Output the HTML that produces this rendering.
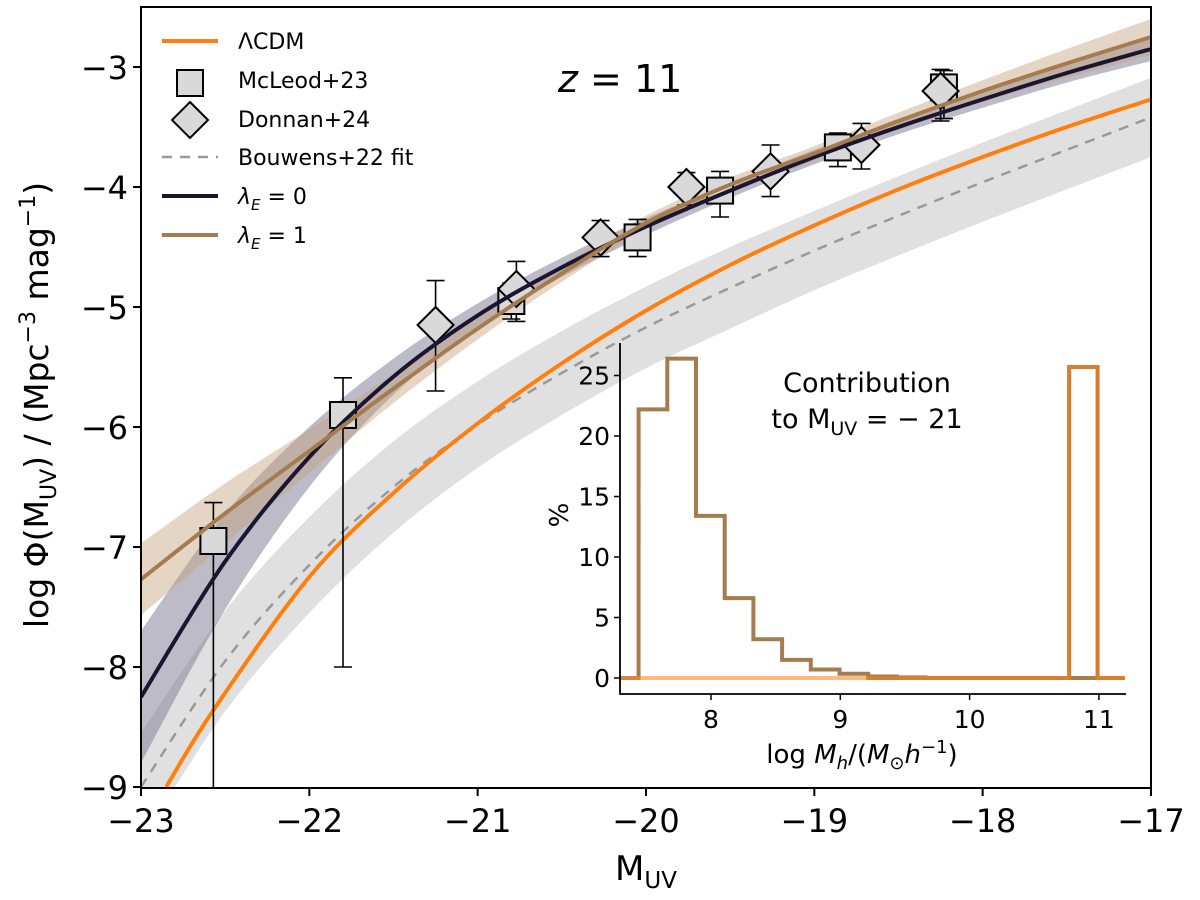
<!DOCTYPE html>
<html><head><meta charset="utf-8"><style>
body{margin:0;background:#fff;}
svg{display:block;font-family:"DejaVu Sans","Liberation Sans",sans-serif;}
</style></head><body>
<svg id="chart" width="1200" height="900" viewBox="0 0 1200 900" xmlns="http://www.w3.org/2000/svg"></svg>
<script>
// ---- main chart data ----
const gridM = [-23,-22.5,-22,-21.5,-21,-20.5,-20,-19.5,-19,-18.5,-18,-17.5,-17];
const lcdmM = [-22.85,-22.57,-22,-21.5,-21,-20.5,-20,-19.5,-19,-18.5,-18,-17.5,-17];
const lcdmV = [-9,-8.36,-7.25,-6.55,-5.97,-5.47,-5.03,-4.65,-4.32,-4.02,-3.75,-3.5,-3.27];
const bouwV = [-9,-7.95,-7.15,-6.5,-5.98,-5.55,-5.17,-4.84,-4.53,-4.24,-3.96,-3.69,-3.42];
const bouwErr = [0.45,0.42,0.4,0.38,0.36,0.35,0.34,0.34,0.33,0.33,0.33,0.33,0.33];
const lam0V = [-8.25,-7.12,-6.25,-5.58,-5.07,-4.67,-4.33,-4.03,-3.75,-3.5,-3.27,-3.05,-2.85];
const lam0Err = [0.55,0.4,0.25,0.15,0.1,0.08,0.07,0.06,0.06,0.06,0.07,0.08,0.1];
const lam1V = [-7.27,-6.72,-6.2,-5.68,-5.18,-4.72,-4.3,-3.98,-3.72,-3.45,-3.2,-2.97,-2.75];
const lam1Err = [0.3,0.25,0.18,0.12,0.09,0.07,0.06,0.06,0.06,0.07,0.09,0.12,0.15];
const mcM = [-22.57,-21.8,-20.8,-20.05,-19.56,-18.86,-18.23];
const mcV = [-6.95,-5.9,-4.95,-4.42,-4.03,-3.67,-3.17];
const mcHi = [-6.63,-5.59,-4.8,-4.27,-3.87,-3.55,-3.03];
const mcLo = [-9.5,-8.0,-5.1,-4.58,-4.25,-3.83,-3.43];
const doM = [-21.25,-20.77,-20.27,-19.76,-19.26,-18.72,-18.25];
const doV = [-5.15,-4.85,-4.42,-4.0,-3.87,-3.65,-3.2];
const doHi = [-4.78,-4.62,-4.28,-3.88,-3.65,-3.47,-3.02];
const doLo = [-5.7,-5.12,-4.58,-4.15,-4.08,-3.85,-3.45];
const xTicks = [-23,-22,-21,-20,-19,-18,-17];
const yTicks = [-3,-4,-5,-6,-7,-8,-9];
// ---- inset data ----
const binEdges0 = 7.44;
const binWidth = 0.222;
const lam1Pct = [22.2,26.4,13.4,6.6,3.2,1.5,0.7,0.35,0.12,0.05,0,0,0,0,0,0];
const lcdmSpikeLo = 10.77, lcdmSpikeHi = 10.99, lcdmSpikePct = 25.7;
const inXTicks = [8,9,10,11];
const inYTicks = [0,5,10,15,20,25];

const NS="http://www.w3.org/2000/svg";
const svg=document.getElementById('chart');
function el(tag,attrs,parent){const e=document.createElementNS(NS,tag);for(const k in attrs)e.setAttribute(k,attrs[k]);(parent||svg).appendChild(e);return e;}
const X=m=>141+(m+23)*168.33;
const Y=v=>67-(v+3)*120;
const clip=el('clipPath',{id:'mainclip'},el('defs',{}));
el('rect',{x:141,y:7,width:1010,height:781},clip);
const plot=el('g',{'clip-path':'url(#mainclip)'});


// smooth Catmull-Rom through points
function smooth(pts,start){let p=(start?'M':'L')+pts[0][0].toFixed(1)+','+pts[0][1].toFixed(1);
 for(let i=0;i<pts.length-1;i++){const p0=pts[Math.max(0,i-1)],p1=pts[i],p2=pts[i+1],p3=pts[Math.min(pts.length-1,i+2)];
  const c1=[p1[0]+(p2[0]-p0[0])/6,p1[1]+(p2[1]-p0[1])/6],c2=[p2[0]-(p3[0]-p1[0])/6,p2[1]-(p3[1]-p1[1])/6];
  p+='C'+c1.map(v=>v.toFixed(1)).join(',')+' '+c2.map(v=>v.toFixed(1)).join(',')+' '+p2.map(v=>v.toFixed(1)).join(',');}
 return p;}
function linePath(ms,vs){return smooth(ms.map((m,i)=>[X(m),Y(vs[i])]),true);}
function bandPath(ms,vs,er){const up=ms.map((m,i)=>[X(m),Y(vs[i]+er[i])]);const lo=ms.map((m,i)=>[X(m),Y(vs[i]-er[i])]).reverse();
 return smooth(up,true)+smooth(lo,false)+'Z';}
let b=el('path',{d:bandPath(gridM,bouwV,bouwErr),fill:'#e0e0e0'},plot);

b=el('path',{d:bandPath(gridM,lam0V,lam0Err),fill:'#7a7890',opacity:0.5},plot);

b=el('path',{d:bandPath(gridM,lam1V,lam1Err),fill:'#c4a27c',opacity:0.45},plot);

b=el('path',{d:linePath(gridM,bouwV),fill:'none',stroke:'#999','stroke-width':2.5,'stroke-dasharray':'10,8'},plot);

b=el('path',{d:linePath(lcdmM,lcdmV),fill:'none',stroke:'#ff7f0e','stroke-width':4},plot);

function errbar(m,lo,hi,name){const g=el('g',{stroke:'#000','stroke-width':1.6},plot);
 el('line',{x1:X(m),x2:X(m),y1:Y(hi),y2:Y(lo)},g);el('line',{x1:X(m)-9,x2:X(m)+9,y1:Y(hi),y2:Y(hi)},g);el('line',{x1:X(m)-9,x2:X(m)+9,y1:Y(lo),y2:Y(lo)},g);}
mcM.forEach((m,i)=>errbar(m,mcLo[i],mcHi[i],'mcleod-errorbar'));
doM.forEach((m,i)=>errbar(m,doLo[i],doHi[i],'donnan-errorbar'));
mcM.forEach((m,i)=>{const r=el('rect',{x:X(m)-13,y:Y(mcV[i])-13,width:26,height:26,fill:'#d9d9d9',stroke:'#000','stroke-width':2},plot);
 });
doM.forEach((m,i)=>{const x=X(m),y=Y(doV[i]);const p=el('polygon',{points:`${x},${y-18} ${x+18},${y} ${x},${y+18} ${x-18},${y}`,fill:'#d9d9d9',stroke:'#000','stroke-width':2},plot);
 });
b=el('path',{d:linePath(gridM,lam0V),fill:'none',stroke:'#1a1530','stroke-width':4},plot);

b=el('path',{d:linePath(gridM,lam1V),fill:'none',stroke:'#a57c4f','stroke-width':4},plot);

b=el('rect',{x:141,y:7,width:1010,height:781,fill:'none',stroke:'#000','stroke-width':2});

xTicks.forEach(t=>{el('line',{x1:X(t),x2:X(t),y1:788,y2:796,stroke:'#000','stroke-width':2});
 const tx=el('text',{x:X(t),y:832,'font-size':32,'text-anchor':'middle'});tx.textContent='\u2212'+Math.abs(t);
 });
yTicks.forEach(t=>{el('line',{x1:133,x2:141,y1:Y(t),y2:Y(t),stroke:'#000','stroke-width':2});
 const tx=el('text',{x:128,y:Y(t)+12,'font-size':32,'text-anchor':'end'});tx.textContent='\u2212'+Math.abs(t);
 });
</script>
<svg width="1200" height="900" style="position:absolute;left:0;top:0;font-family:'DejaVu Sans','Liberation Sans',sans-serif;">
<text x="646" y="880" font-size="34" text-anchor="middle">M<tspan font-size="23" dy="8">UV</tspan></text>
<text transform="translate(48,405) rotate(-90)" font-size="33" text-anchor="middle">log Φ(M<tspan font-size="22" dy="8">UV</tspan><tspan dy="-8">) / (Mpc</tspan><tspan font-size="22" dy="-13">−3</tspan><tspan dy="13"> mag</tspan><tspan font-size="22" dy="-13">−1</tspan><tspan dy="13">)</tspan></text>
<text x="558" y="92" font-size="38"><tspan font-style="italic">z</tspan> = 11</text>
<g font-size="22">
<line x1="162" y1="41" x2="218" y2="41" stroke="#ff7f0e" stroke-width="4"/><text x="238" y="49">ΛCDM</text>
<rect x="177" y="70" width="26" height="26" fill="#d9d9d9" stroke="#000" stroke-width="2"/><text x="238" y="88">McLeod+23</text>
<polygon points="190,102 208,120 190,138 172,120" fill="#d9d9d9" stroke="#000" stroke-width="2"/><text x="238" y="127">Donnan+24</text>
<line x1="162" y1="157" x2="218" y2="157" stroke="#999" stroke-width="2.5" stroke-dasharray="10,8"/><text x="238" y="165">Bouwens+22 fit</text>
<line x1="162" y1="196" x2="218" y2="196" stroke="#1a1530" stroke-width="4"/><text x="238" y="204"><tspan font-style="italic">λ</tspan><tspan font-size="15" font-style="italic" dy="6">E</tspan><tspan dy="-6"> = 0</tspan></text>
<line x1="162" y1="235" x2="218" y2="235" stroke="#a57c4f" stroke-width="4"/><text x="238" y="243"><tspan font-style="italic">λ</tspan><tspan font-size="15" font-style="italic" dy="6">E</tspan><tspan dy="-6"> = 1</tspan></text>
</g>
</svg>
<svg id="inset" width="1200" height="900" style="position:absolute;left:0;top:0;font-family:'DejaVu Sans','Liberation Sans',sans-serif;"></svg>
<script>
const S2=document.getElementById('inset');
function el2(tag,attrs,parent){const e=document.createElementNS(NS,tag);for(const k in attrs)e.setAttribute(k,attrs[k]);(parent||S2).appendChild(e);return e;}
const IX=v=>711+(v-8)*129.3;
const IY=p=>678-p*12.1;
let d='M'+IX(7.3)+','+IY(0)+'L'+IX(binEdges0)+','+IY(0);
lam1Pct.forEach((p,i)=>{const a=binEdges0+i*binWidth,bb=a+binWidth;if(a>11.2)return;d+='L'+IX(a).toFixed(1)+','+IY(p).toFixed(1)+'L'+IX(Math.min(bb,11.2)).toFixed(1)+','+IY(p).toFixed(1);});
d+='L'+IX(11.2)+','+IY(0);
let h=el2('path',{d:d,fill:'none',stroke:'#a57c4f','stroke-width':4});

let d2='M'+IX(7.3)+','+IY(0)+'L'+IX(lcdmSpikeLo)+','+IY(0)+'L'+IX(lcdmSpikeLo)+','+IY(lcdmSpikePct)+'L'+IX(lcdmSpikeHi)+','+IY(lcdmSpikePct)+'L'+IX(lcdmSpikeHi)+','+IY(0)+'L'+IX(11.2)+','+IY(0);
h=el2('path',{d:d2,fill:'none',stroke:'#ff8c2a','stroke-width':4,opacity:0.6});

let d3='M'+IX(9.2)+','+IY(0)+'L'+IX(lcdmSpikeLo)+','+IY(0)+'L'+IX(lcdmSpikeLo)+','+IY(lcdmSpikePct)+'L'+IX(lcdmSpikeHi)+','+IY(lcdmSpikePct)+'L'+IX(lcdmSpikeHi)+','+IY(0)+'L'+IX(11.2)+','+IY(0);
h=el2('path',{d:d3,fill:'none',stroke:'#d4802e','stroke-width':4});

h=el2('path',{d:'M620,343L620,694L1126,694',fill:'none',stroke:'#000','stroke-width':1.8});

inXTicks.forEach(t=>{el2('line',{x1:IX(t),x2:IX(t),y1:694,y2:700,stroke:'#000','stroke-width':1.5});
 const tx=el2('text',{x:IX(t),y:728,'font-size':25,'text-anchor':'middle'});tx.textContent=t;
 });
inYTicks.forEach(t=>{el2('line',{x1:614,x2:620,y1:IY(t),y2:IY(t),stroke:'#000','stroke-width':1.5});
 const tx=el2('text',{x:610,y:IY(t)+9,'font-size':25,'text-anchor':'end'});tx.textContent=t;
 });
</script>
<svg width="1200" height="900" style="position:absolute;left:0;top:0;font-family:'DejaVu Sans','Liberation Sans',sans-serif;">
<text transform="translate(568,515) rotate(-90)" font-size="26" text-anchor="middle">%</text>
<text x="862" y="763" font-size="26" text-anchor="middle">log <tspan font-style="italic">M</tspan><tspan font-size="18" font-style="italic" dy="6">h</tspan><tspan dy="-6">/(</tspan><tspan font-style="italic">M</tspan><tspan font-size="18" dy="6">⊙</tspan><tspan dy="-6" font-style="italic">h</tspan><tspan font-size="18" dy="-10">−1</tspan><tspan dy="10">)</tspan></text>
<text font-size="27" text-anchor="middle"><tspan x="867" y="392">Contribution</tspan><tspan x="867" y="428">to M</tspan><tspan font-size="19" dy="7">UV</tspan><tspan dy="-7"> = − 21</tspan></text>
</svg>
</body></html>
